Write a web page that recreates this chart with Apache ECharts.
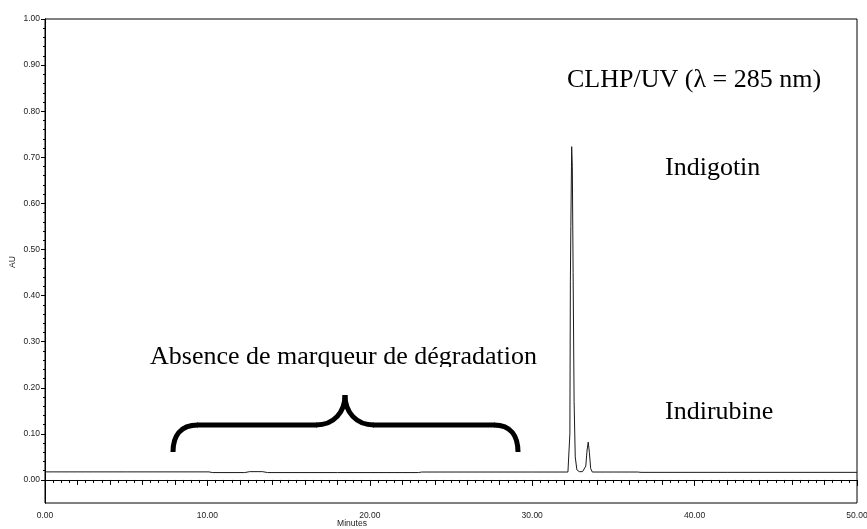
<!DOCTYPE html>
<html>
<head>
<meta charset="utf-8">
<script src="https://cdn.jsdelivr.net/npm/echarts@6/dist/echarts.min.js"></script>
<style>
  html, body { margin: 0; padding: 0; background: #fff; }
  #chart { width: 867px; height: 529px; }
</style>
</head>
<body>
<div id="chart"></div>
<script>
// Chromatogram trace: retention time (minutes) and absorbance (AU)
const timeMin = [
  0.00, 5.00, 10.10, 10.30, 12.30, 12.60, 13.40, 13.70, 18.00, 23.00, 23.20, 30.00,
  32.20, 32.28, 32.32, 32.35, 32.38, 32.43, 32.47, 32.52, 32.58, 32.65, 32.75, 32.90,
  33.10, 33.30, 33.38, 33.45, 33.52, 33.60, 33.70, 36.50, 36.70, 42.00, 50.00
];
const absorbance = [
  0.0175, 0.0175, 0.0175, 0.0160, 0.0160, 0.0180, 0.0180, 0.0160, 0.0160, 0.0160, 0.0172, 0.0172,
  0.0172, 0.020, 0.100, 0.430, 0.550, 0.723, 0.680, 0.450, 0.170, 0.050, 0.022, 0.018,
  0.018, 0.030, 0.065, 0.082, 0.060, 0.025, 0.0172, 0.0172, 0.0165, 0.0165, 0.0165
];

// Axis ticks and labels
const xLabelValues = [0, 10, 20, 30, 40, 50];
const yLabelValues = [0, 0.1, 0.2, 0.3, 0.4, 0.5, 0.6, 0.7, 0.8, 0.9, 1.0];
const xAxisTitle = 'Minutes';
const yAxisTitle = 'AU';

// Annotation texts
const titleText = 'CLHP/UV (\u03BB = 285 nm)';
const peak1Text = 'Indigotin';
const peak2Text = 'Indirubine';
const regionText = 'Absence de marqueur de d\u00E9gradation';

const yMinorValues = [];
for (let i = 0; i <= 50; i++) yMinorValues.push(+(i * 0.02).toFixed(2));

const tickFont = { fontFamily: 'Liberation Sans, Arial, sans-serif', fontSize: 8.5, color: '#222' };
const smallFont = '8.5px "Liberation Sans", Arial, sans-serif';
const serif = '26px "Liberation Serif", "Times New Roman", serif';

const chart = echarts.init(document.getElementById('chart'), null, { renderer: 'canvas' });

const xBase = { type: 'value', min: 0, max: 50, gridIndex: 0, position: 'bottom',
  axisLine: { show: true, lineStyle: { color: '#000', width: 1 } },
  splitLine: { show: false } };
const yBase = { type: 'value', min: -0.05, max: 1.0, gridIndex: 0, position: 'left',
  axisLine: { show: true, lineStyle: { color: '#000', width: 1 } },
  splitLine: { show: false } };

// brace stroke style
const braceStyle = { fill: 'none', stroke: '#000', lineWidth: 5, lineCap: 'butt' };

chart.setOption({
  animation: false,
  backgroundColor: '#fff',
  grid: { left: 45, right: 10, top: 19, bottom: 26, show: true,
    containLabel: false, outerBoundsMode: 'none',
    borderColor: '#000', borderWidth: 1, backgroundColor: 'transparent' },
  xAxis: [
    Object.assign({}, xBase, {
      interval: 10,
      axisTick: { show: true, length: 6, lineStyle: { color: '#000' } },
      minorTick: { show: true, splitNumber: 5, length: 5, lineStyle: { color: '#000' } },
      axisLabel: { show: true, margin: 8, formatter: v => v.toFixed(2), ...tickFont }
    }),
    Object.assign({}, xBase, {
      interval: 2,
      axisTick: { show: false },
      minorTick: { show: true, splitNumber: 4, length: 3, lineStyle: { color: '#000' } },
      axisLabel: { show: false }
    })
  ],
  yAxis: [
    Object.assign({}, yBase, {
      axisTick: { show: true, length: 4, customValues: yLabelValues, lineStyle: { color: '#000' } },
      axisLabel: { show: true, margin: 5, customValues: yLabelValues,
        formatter: v => v.toFixed(2), ...tickFont }
    }),
    Object.assign({}, yBase, {
      axisTick: { show: true, length: 2, customValues: yMinorValues, lineStyle: { color: '#000' } },
      axisLabel: { show: false }
    })
  ],
  series: [{
    type: 'line',
    xAxisIndex: 0, yAxisIndex: 0,
    data: timeMin.map((t, i) => [t, absorbance[i]]),
    showSymbol: false,
    symbol: 'none',
    lineStyle: { color: '#1a1a1a', width: 1 },
    silent: true
  }],
  graphic: [
    // axis titles
    { type: 'text', x: 13, y: 262, rotation: Math.PI / 2, z: 10,
      style: { text: yAxisTitle, font: smallFont, fill: '#222', align: 'center', verticalAlign: 'middle' } },
    { type: 'text', x: 352, y: 524, z: 10,
      style: { text: xAxisTitle, font: smallFont, fill: '#222', align: 'center', verticalAlign: 'middle' } },
    // annotations
    { type: 'text', x: 567, y: 80, z: 10,
      style: { text: titleText, font: serif, fill: '#000', verticalAlign: 'middle' } },
    { type: 'text', x: 665, y: 168, z: 10,
      style: { text: peak1Text, font: serif, fill: '#000', verticalAlign: 'middle' } },
    { type: 'text', x: 150, y: 357, z: 10,
      style: { text: regionText, font: serif, fill: '#000', verticalAlign: 'middle' } },
    { type: 'rect', z: 11, shape: { x: 145, y: 367, width: 400, height: 5 },
      style: { fill: '#fff' } },
    { type: 'text', x: 665, y: 412, z: 10,
      style: { text: peak2Text, font: serif, fill: '#000', verticalAlign: 'middle' } },
    // curly brace over the 8-29 min window
    { type: 'bezierCurve', z: 10, style: braceStyle,
      shape: { x1: 173, y1: 452, cpx1: 173, cpy1: 436, cpx2: 180, cpy2: 425, x2: 198, y2: 425 } },
    { type: 'line', z: 10, style: braceStyle,
      shape: { x1: 197, y1: 425, x2: 317, y2: 425 } },
    { type: 'bezierCurve', z: 10, style: braceStyle,
      shape: { x1: 316, y1: 425, cpx1: 334, cpy1: 425, cpx2: 345, cpy2: 412, x2: 345, y2: 395 } },
    { type: 'bezierCurve', z: 10, style: braceStyle,
      shape: { x1: 345, y1: 395, cpx1: 345, cpy1: 412, cpx2: 356, cpy2: 425, x2: 374, y2: 425 } },
    { type: 'line', z: 10, style: braceStyle,
      shape: { x1: 373, y1: 425, x2: 495, y2: 425 } },
    { type: 'bezierCurve', z: 10, style: braceStyle,
      shape: { x1: 494, y1: 425, cpx1: 511, cpy1: 425, cpx2: 518, cpy2: 436, x2: 518, y2: 452 } }
  ]
});
</script>
</body>
</html>
